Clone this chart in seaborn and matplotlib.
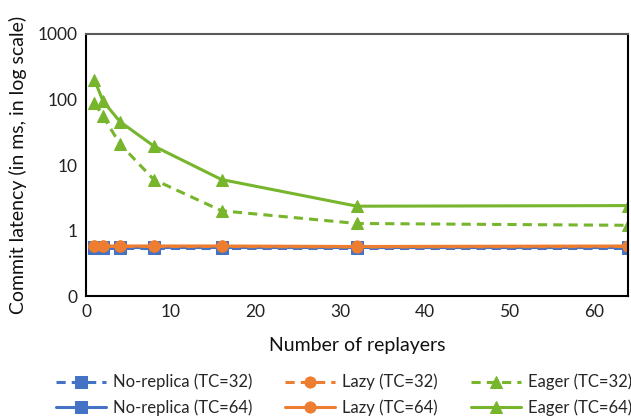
import matplotlib
matplotlib.use("Agg")
import matplotlib.pyplot as plt
import seaborn as sns
import pandas as pd
from matplotlib.ticker import FixedLocator, FixedFormatter, NullLocator

replayers = [1, 2, 4, 8, 16, 32, 64]
noreplica_32 = [0.55, 0.55, 0.55, 0.55, 0.55, 0.55, 0.55]
noreplica_64 = [0.56, 0.56, 0.56, 0.56, 0.56, 0.56, 0.56]
lazy_32 = [0.57, 0.57, 0.57, 0.57, 0.57, 0.56, 0.57]
lazy_64 = [0.58, 0.58, 0.58, 0.58, 0.58, 0.57, 0.58]
eager_32 = [88, 56, 21, 6.0, 2.0, 1.28, 1.2]
eager_64 = [200, 95, 46, 19.5, 6.0, 2.35, 2.4]

y_ticks = [0.1, 1, 10, 100, 1000]
y_tick_labels = ["0", "1", "10", "100", "1000"]
x_ticks = [0, 10, 20, 30, 40, 50, 60]

sns.set_theme(style="white")
plt.rcParams["font.family"] = ["Lato", "DejaVu Sans"]

BLUE = "#4472C4"
ORANGE = "#ED7D31"
GREEN = "#77B52C"

series = [
    ("No-replica (TC=32)", noreplica_32, BLUE, "s", (0, (3, 2))),
    ("No-replica (TC=64)", noreplica_64, BLUE, "s", "-"),
    ("Lazy (TC=32)", lazy_32, ORANGE, "o", (0, (3, 2))),
    ("Lazy (TC=64)", lazy_64, ORANGE, "o", "-"),
    ("Eager (TC=32)", eager_32, GREEN, "^", (0, (3, 2))),
    ("Eager (TC=64)", eager_64, GREEN, "^", "-"),
]

fig = plt.figure(figsize=(6.31, 4.19), dpi=100)
ax = fig.add_axes([86 / 631, 1 - 296 / 419, (628 - 86) / 631, (296 - 34) / 419])

for name, vals, color, marker, ls in series:
    df = pd.DataFrame({"x": replayers, "y": vals})
    sns.lineplot(data=df, x="x", y="y", ax=ax, color=color, marker=marker,
                 markersize=8, markeredgecolor=color, linewidth=2.2,
                 linestyle=ls, label=name)

ax.set_yscale("log")
ax.set_ylim(0.1, 1000)
ax.set_xlim(0, 64)
ax.yaxis.set_major_locator(FixedLocator(y_ticks))
ax.yaxis.set_major_formatter(FixedFormatter(y_tick_labels))
ax.yaxis.set_minor_locator(NullLocator())
ax.set_xticks(x_ticks)
ax.set_xticklabels([str(t) for t in x_ticks])
ax.tick_params(axis="both", length=0, labelsize=12.5, colors="#222222", pad=6)

ax.set_xlabel("Number of replayers", fontsize=14, color="#111111", labelpad=12)
ax.set_ylabel("Commit latency (in ms, in log scale)", fontsize=14, color="#111111", labelpad=8)

for side in ["left", "bottom", "right"]:
    ax.spines[side].set_color("black")
    ax.spines[side].set_linewidth(1.5)
    ax.spines[side].set_visible(True)
ax.spines["top"].set_color("#595959")
ax.spines["top"].set_linewidth(1.5)
ax.spines["top"].set_visible(True)

handles, labels = ax.get_legend_handles_labels()
ax.get_legend().remove()
fig.legend(handles, labels, loc="center", bbox_to_anchor=(344 / 631, 1 - 395 / 419),
           ncol=3, frameon=False, fontsize=12, handlelength=3.0,
           columnspacing=2.0, handletextpad=0.4, labelspacing=0.55,
           borderpad=0.0)

fig.savefig("out.png", dpi=100)
